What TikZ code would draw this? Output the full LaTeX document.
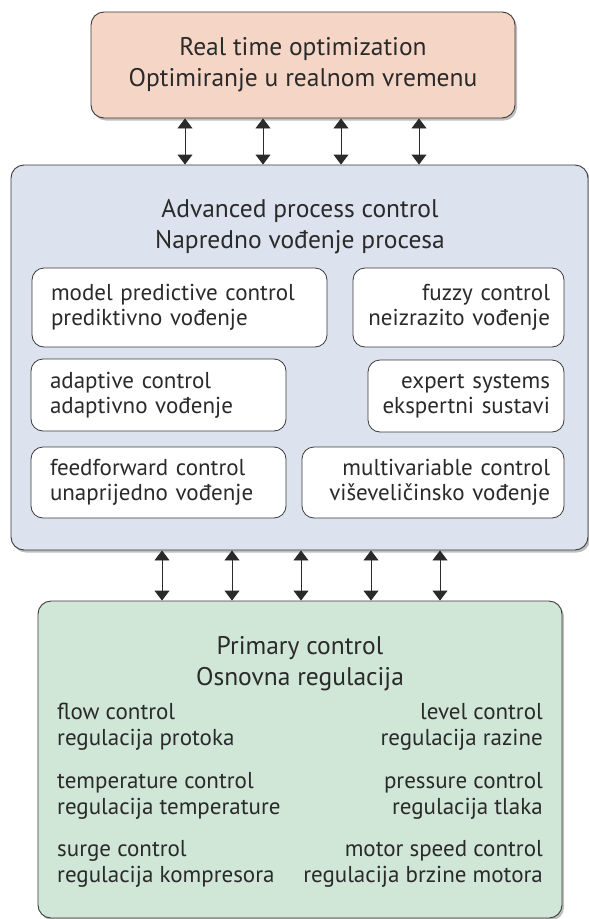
\documentclass[tikz,border=0pt]{standalone}
\usepackage{fontspec}
\setmainfont{PT Sans}
\usetikzlibrary{arrows.meta,shadows}
\definecolor{peach}{HTML}{F5D6C6}
\definecolor{bluegray}{HTML}{DCE2EE}
\definecolor{mint}{HTML}{D0E6D7}
\definecolor{edge}{HTML}{3A3A3A}
\definecolor{ink}{HTML}{2A2A2A}
\tikzset{
  bigbox/.style={draw=edge, line width=0.9pt, rounded corners=13pt, inner sep=0pt,
    drop shadow={shadow xshift=2pt, shadow yshift=-2.5pt, fill=black, opacity=0.25}},
  subbox/.style={draw=edge, line width=0.8pt, rounded corners=12pt, fill=white, text=ink,
    font=\fontsize{23}{25}\selectfont, inner ysep=0pt},
  leftbox/.style={subbox, align=left, inner xsep=19pt},
  rightbox/.style={subbox, align=right, inner xsep=14pt},
  titletxt/.style={text=ink, align=center, font=\fontsize{25.5}{31}\selectfont, inner sep=0pt},
  itemtxt/.style={text=ink, font=\fontsize{23}{26}\selectfont, inner sep=0pt},
  biarrow/.style={draw=ink, line width=0.9pt, {Triangle[width=15pt,length=10pt]}-{Triangle[width=15pt,length=10pt]}}
}
\begin{document}
\begin{tikzpicture}[x=1pt,y=-1pt]
\useasboundingbox (0,0) rectangle (589,919);
% big boxes
\node[bigbox, fill=peach, minimum width=424pt, minimum height=106pt] (rto) at (303,65) {};
\node[bigbox, fill=bluegray, minimum width=577pt, minimum height=385pt] (apc) at (299.5,357.5) {};
\node[bigbox, fill=mint, minimum width=524pt, minimum height=317pt] (pc) at (300,759.5) {};
% titles
\node[titletxt] (rtot) at (303,64.5) {Real time optimization\\Optimiranje u realnom vremenu};
\node[titletxt] (apct) at (300,227) {Advanced process control\\Napredno vođenje procesa};
\node[titletxt] (pct) at (300,664) {Primary control\\Osnovna regulacija};
% inner boxes
\node[leftbox, text width=257pt, minimum height=79pt] (mpc) at (179.5,307.5) {model predictive control\\prediktivno vođenje};
\node[rightbox, text width=183pt, minimum height=79pt] (fuzzy) at (458.5,307.5) {fuzzy control\\neizrazito vođenje};
\node[leftbox, text width=217pt, minimum height=72pt] (adapt) at (158.5,395) {adaptive control\\adaptivno vođenje};
\node[rightbox, text width=168pt, minimum height=72pt] (expert) at (466,396) {expert systems\\ekspertni sustavi};
\node[leftbox, text width=217pt, minimum height=71pt] (ffw) at (158.5,482.5) {feedforward control\\unaprijedno vođenje};
\node[rightbox, text width=234pt, minimum height=71pt] (multi) at (433,482.5) {multivariable control\\viševeličinsko vođenje};
% primary control items
\node[itemtxt, anchor=west, align=left] (flow) at (57,726.5) {flow control\\regulacija protoka};
\node[itemtxt, anchor=west, align=left] (temp) at (57,796) {temperature control\\regulacija temperature};
\node[itemtxt, anchor=west, align=left] (surge) at (57,864) {surge control\\regulacija kompresora};
\node[itemtxt, anchor=east, align=right] (level) at (543,727) {level control\\regulacija razine};
\node[itemtxt, anchor=east, align=right] (press) at (543,796) {pressure control\\regulacija tlaka};
\node[itemtxt, anchor=east, align=right] (motor) at (543,864) {motor speed control\\regulacija brzine motora};
% arrows
\foreach \i/\x in {1/185,2/263,3/341,4/419}{
  \coordinate (ta\i) at (\x,0);
  \draw[biarrow] (rto.south -| ta\i) -- (apc.north -| ta\i);
}
\foreach \i/\x in {1/162,2/232,3/301,4/371,5/440}{
  \coordinate (ba\i) at (\x,0);
  \draw[biarrow] (apc.south -| ba\i) -- (pc.north -| ba\i);
}
\end{tikzpicture}
\end{document}
